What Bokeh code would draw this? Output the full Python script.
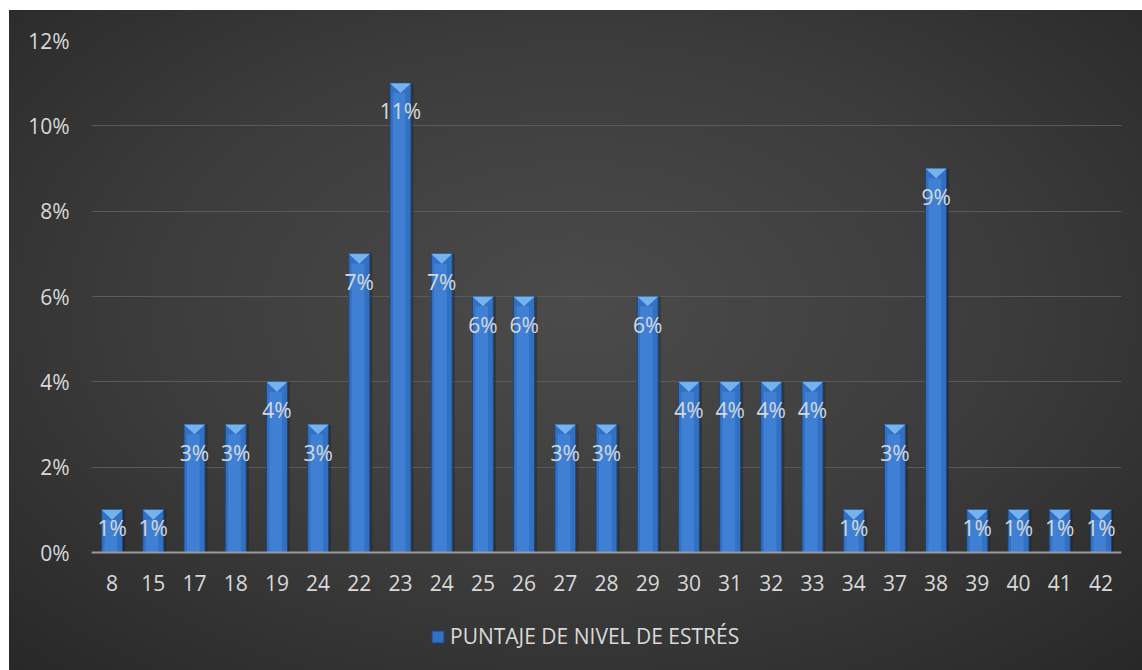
from bokeh.plotting import figure
from bokeh.models import FixedTicker, NumeralTickFormatter, ColumnDataSource, Legend, LegendItem
from bokeh.core.properties import value
from bokeh.embed import file_html
from bokeh.resources import INLINE

categories = ["8", "15", "17", "18", "19", "24", "22", "23", "24", "25", "26", "27", "28",
              "29", "30", "31", "32", "33", "34", "37", "38", "39", "40", "41", "42"]
percent = [1, 1, 3, 3, 4, 3, 7, 11, 7, 6, 6, 3, 3, 6, 4, 4, 4, 4, 1, 3, 9, 1, 1, 1, 1]
y_ticks = [0, 0.02, 0.04, 0.06, 0.08, 0.10, 0.12]
series_name = "PUNTAJE DE NIVEL DE ESTRÉS"

FONT = "Open Sans"
TXT = "#d9d9d9"
FS = "21px"

xs = list(range(len(categories)))
vals = [v / 100 for v in percent]
labels = [f"{v}%" for v in percent]
offsets = [18 if v == 1 else 28 for v in percent]

BW = 0.51
tri_d = 0.0023
tri_xs = [[x - BW / 2, x + BW / 2, x] for x in xs]
tri_ys = [[v, v, v - tri_d] for v in vals]

src = ColumnDataSource(dict(x=xs, top=vals, label=labels, off=offsets))

# frame spans from the 12% line down to the bottom of the chart area; the value axis
# keeps 512 px for 0..12%, the extra 118 px below zero hold the category labels and legend
Y_MAX = 0.12
px_per_unit = 512 / Y_MAX
y_min = -118 / px_per_unit

p = figure(frame_width=1030, frame_height=630, output_backend="svg", toolbar_location=None,
           x_range=(-0.5, len(categories) - 0.5), y_range=(y_min, Y_MAX),
           min_border_left=82, min_border_right=21, min_border_top=30, min_border_bottom=0)

p.styles = {"margin-left": "9px", "margin-top": "10px",
            "background": "radial-gradient(ellipse 75% 80% at 50% 45%, #4b4b4b 0%, #3c3c3c 50%, #262626 100%)"}
p.border_fill_alpha = 0
p.background_fill_alpha = 0
p.outline_line_color = None

# shadow
p.vbar(x=[x + 0.06 for x in xs], top=vals, width=BW, fill_color="#1a1a1a", fill_alpha=0.35, line_color=None)
# bars
bars = p.vbar(x="x", top="top", source=src, width=BW, fill_color="#3270c2",
              line_color="#1d4678", line_width=1)
p.vbar(x=[x - 0.03 for x in xs], top=[v - tri_d for v in vals], width=BW * 0.6, fill_color="#4485d8",
       fill_alpha=0.8, line_color=None)
p.patches(xs=tri_xs, ys=tri_ys, fill_color="#74b2f0", line_color=None)

p.text(x="x", y="top", text="label", source=src, y_offset="off", text_align="center",
       text_baseline="middle", text_color=TXT, text_font=value(FONT), text_font_size=FS)

# axes
p.xaxis.ticker = FixedTicker(ticks=xs)
p.xaxis.major_label_overrides = {i: c for i, c in enumerate(categories)}
p.xaxis.fixed_location = 0
p.yaxis.ticker = FixedTicker(ticks=y_ticks)
p.yaxis.formatter = NumeralTickFormatter(format="0%")
for ax in (p.xaxis[0], p.yaxis[0]):
    ax.major_tick_line_color = None
    ax.minor_tick_line_color = None
    ax.major_label_text_color = TXT
    ax.major_label_text_font = FONT
    ax.major_label_text_font_size = FS
p.yaxis.axis_line_color = None
p.yaxis.major_label_standoff = 16
p.xaxis.axis_line_color = "#9a9a9a"
p.xaxis.axis_line_width = 2
p.xaxis.major_label_standoff = 16

p.xgrid.grid_line_color = None
p.ygrid.grid_line_color = "#5a5a5a"
p.ygrid.grid_line_width = 1
p.ygrid.ticker = FixedTicker(ticks=y_ticks)

legend = Legend(items=[LegendItem(label=series_name, renderers=[bars])], location=(339, 20),
                orientation="horizontal", background_fill_alpha=0, border_line_color=None,
                label_text_color=TXT, label_text_font=FONT, label_text_font_size=FS,
                glyph_width=15, glyph_height=15, label_standoff=5, margin=0, padding=0)
p.add_layout(legend)

open("out.html", "w").write(file_html(p, INLINE))
